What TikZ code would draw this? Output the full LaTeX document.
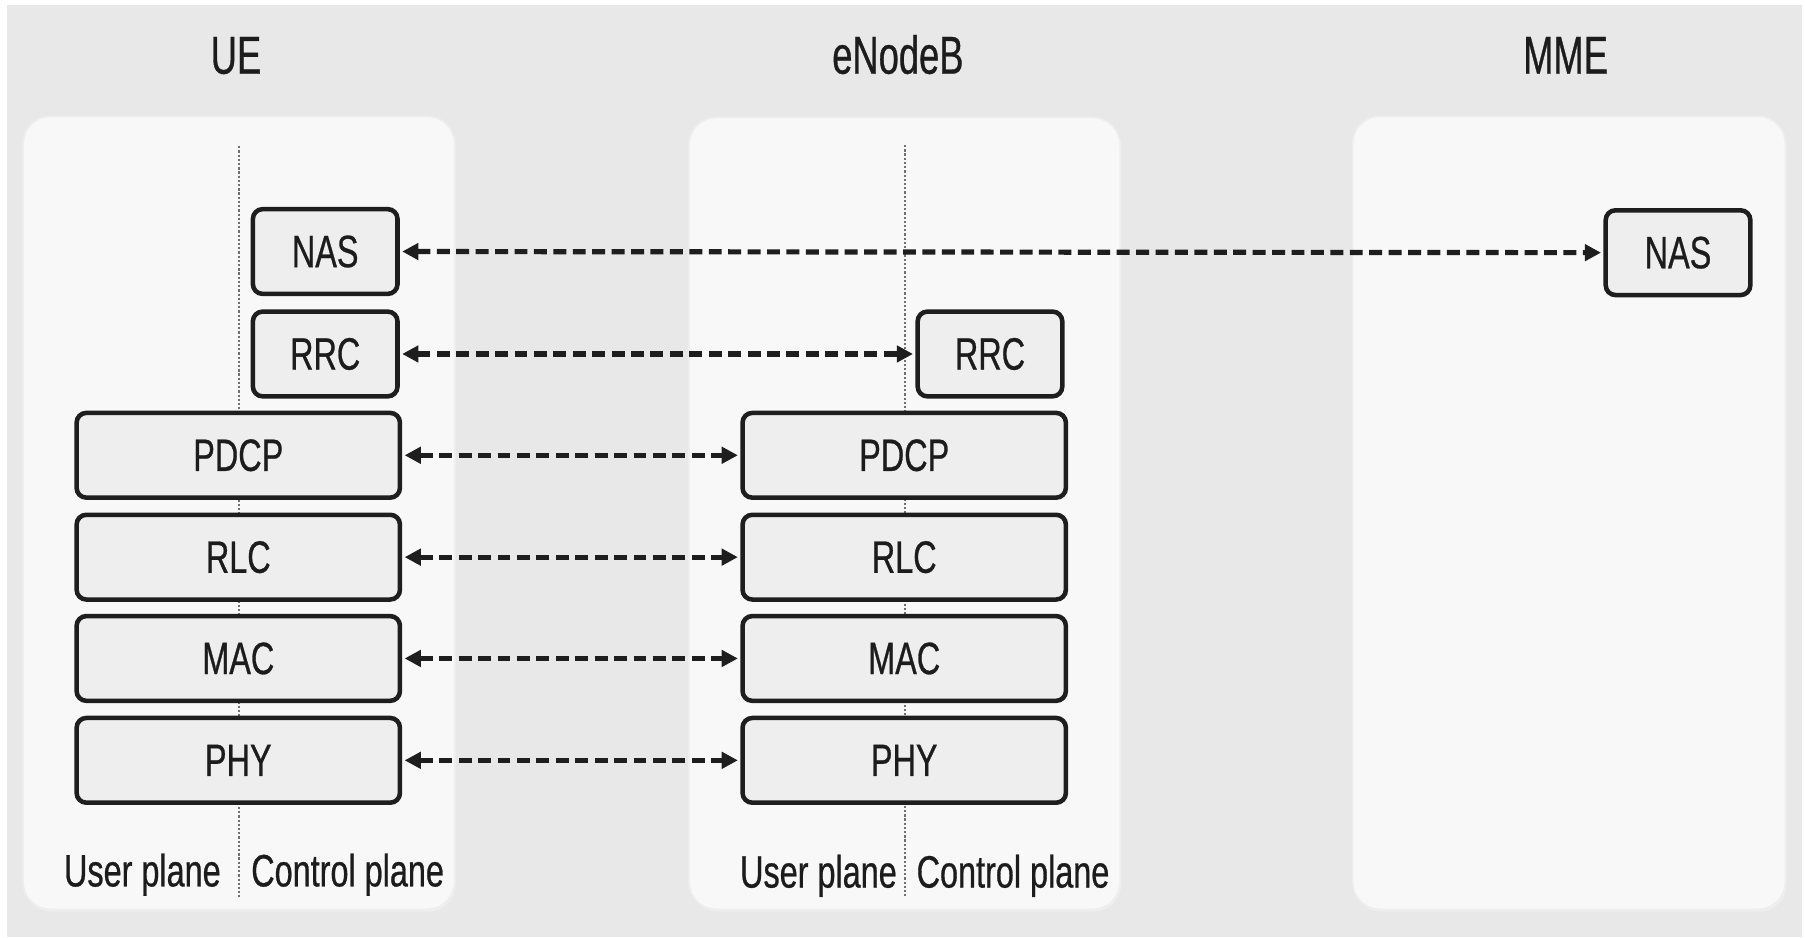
\documentclass[tikz,border=0pt]{standalone}
\usepackage{fontspec}
\usetikzlibrary{arrows.meta}
\newfontfamily\lblfont{Liberation Sans}[FakeStretch=0.715,FakeBold=0.6]
\newfontfamily\ttlfont{Liberation Sans}[FakeStretch=0.68,FakeBold=0.6]
\definecolor{bggray}{HTML}{E8E8E8}
\definecolor{panelfill}{HTML}{F8F8F8}
\definecolor{panelline}{HTML}{EEEEEE}
\definecolor{boxfill}{HTML}{EEEEEE}
\definecolor{boxline}{HTML}{1E1E1E}
\definecolor{txt}{HTML}{1C1C1C}
\definecolor{divgray}{HTML}{707070}
\tikzset{
  panel/.style={fill=panelfill, draw=panelline, line width=1pt, rounded corners=0.6cm},
  layerbox/.style={draw=boxline, fill=boxfill, line width=2.8pt, rounded corners=6pt,
    minimum height=1.84cm, inner sep=0pt, font=\lblfont\fontsize{28}{30}\selectfont, text=txt},
  narrowbox/.style={layerbox, minimum width=3.14cm},
  widebox/.style={layerbox, minimum width=7.02cm},
  ttl/.style={font=\ttlfont\fontsize{33}{36}\selectfont, text=txt, anchor=base, inner sep=0pt},
  planelbl/.style={font=\lblfont\fontsize{28}{30}\selectfont, text=txt, anchor=base, inner sep=0pt},
  divider/.style={draw=divgray, line width=1.1pt, dash pattern=on 1.4pt off 1.2pt},
  peer/.style={draw=boxline, line width=3.2pt, dash pattern=on 8pt off 4pt,
    {Triangle[length=10pt,width=10pt]}-{Triangle[length=10pt,width=10pt]}, shorten <=1.5pt, shorten >=1.5pt}
}
\begin{document}
\begin{tikzpicture}[x=0.025cm,y=-0.025cm]
\useasboundingbox (0,0) rectangle (1568,814);
\fill[white] (0,0) rectangle (1568,814);
\fill[bggray] (6,4.3) rectangle (1565,814);
% panels
\fill[panelline, rounded corners=0.6cm] (21,103) rectangle (396,792);
\path[panel] (20,101) rectangle (395,790);
\fill[panelline, rounded corners=0.6cm] (599.5,104) rectangle (974,792);
\path[panel] (598.5,102) rectangle (973,790);
\fill[panelline, rounded corners=0.6cm] (1176,103) rectangle (1552,792);
\path[panel] (1175,101) rectangle (1551,790);
% titles
\node[ttl] (tUE) at (205,64) {UE};
\node[ttl] (tENB) at (780,64) {eNodeB};
\node[ttl] (tMME) at (1360,64) {MME};
% dividers
\coordinate (dUEtop) at (207.7,127);
\coordinate (dUEbot) at (207.7,779);
\coordinate (dENBtop) at (786,126);
\coordinate (dENBbot) at (786,779);
\draw[divider] (dUEtop) -- (dUEbot);
\draw[divider] (dENBtop) -- (dENBbot);
% UE stack
\node[narrowbox] (ueNAS) at (282.5,218.5) {NAS};
\node[narrowbox] (ueRRC) at (282.5,307.5) {RRC};
\node[widebox] (uePDCP) at (207,395.5) {PDCP};
\node[widebox] (ueRLC) at (207,484) {RLC};
\node[widebox] (ueMAC) at (207,572) {MAC};
\node[widebox] (uePHY) at (207,660.5) {PHY};
% eNodeB stack
\node[narrowbox] (enbRRC) at (860,307.5) {RRC};
\node[widebox] (enbPDCP) at (785.5,395.5) {PDCP};
\node[widebox] (enbRLC) at (785.5,484) {RLC};
\node[widebox] (enbMAC) at (785.5,572) {MAC};
\node[widebox] (enbPHY) at (785.5,660.5) {PHY};
% MME
\node[narrowbox] (mmeNAS) at (1457.7,219.5) {NAS};
% plane labels
\node[planelbl] (ueUP) at (123.7,770) {User plane};
\node[planelbl] (ueCP) at (302,770) {Control plane};
\node[planelbl] (enbUP) at (711,771) {User plane};
\node[planelbl] (enbCP) at (880,771) {Control plane};
% peer arrows
\draw[peer] (ueNAS.east) -- (mmeNAS.west);
\draw[peer] (ueRRC.east) -- (enbRRC.west);
\draw[peer] (uePDCP.east) -- (enbPDCP.west);
\draw[peer] (ueRLC.east) -- (enbRLC.west);
\draw[peer] (ueMAC.east) -- (enbMAC.west);
\draw[peer] (uePHY.east) -- (enbPHY.west);
\end{tikzpicture}
\end{document}
